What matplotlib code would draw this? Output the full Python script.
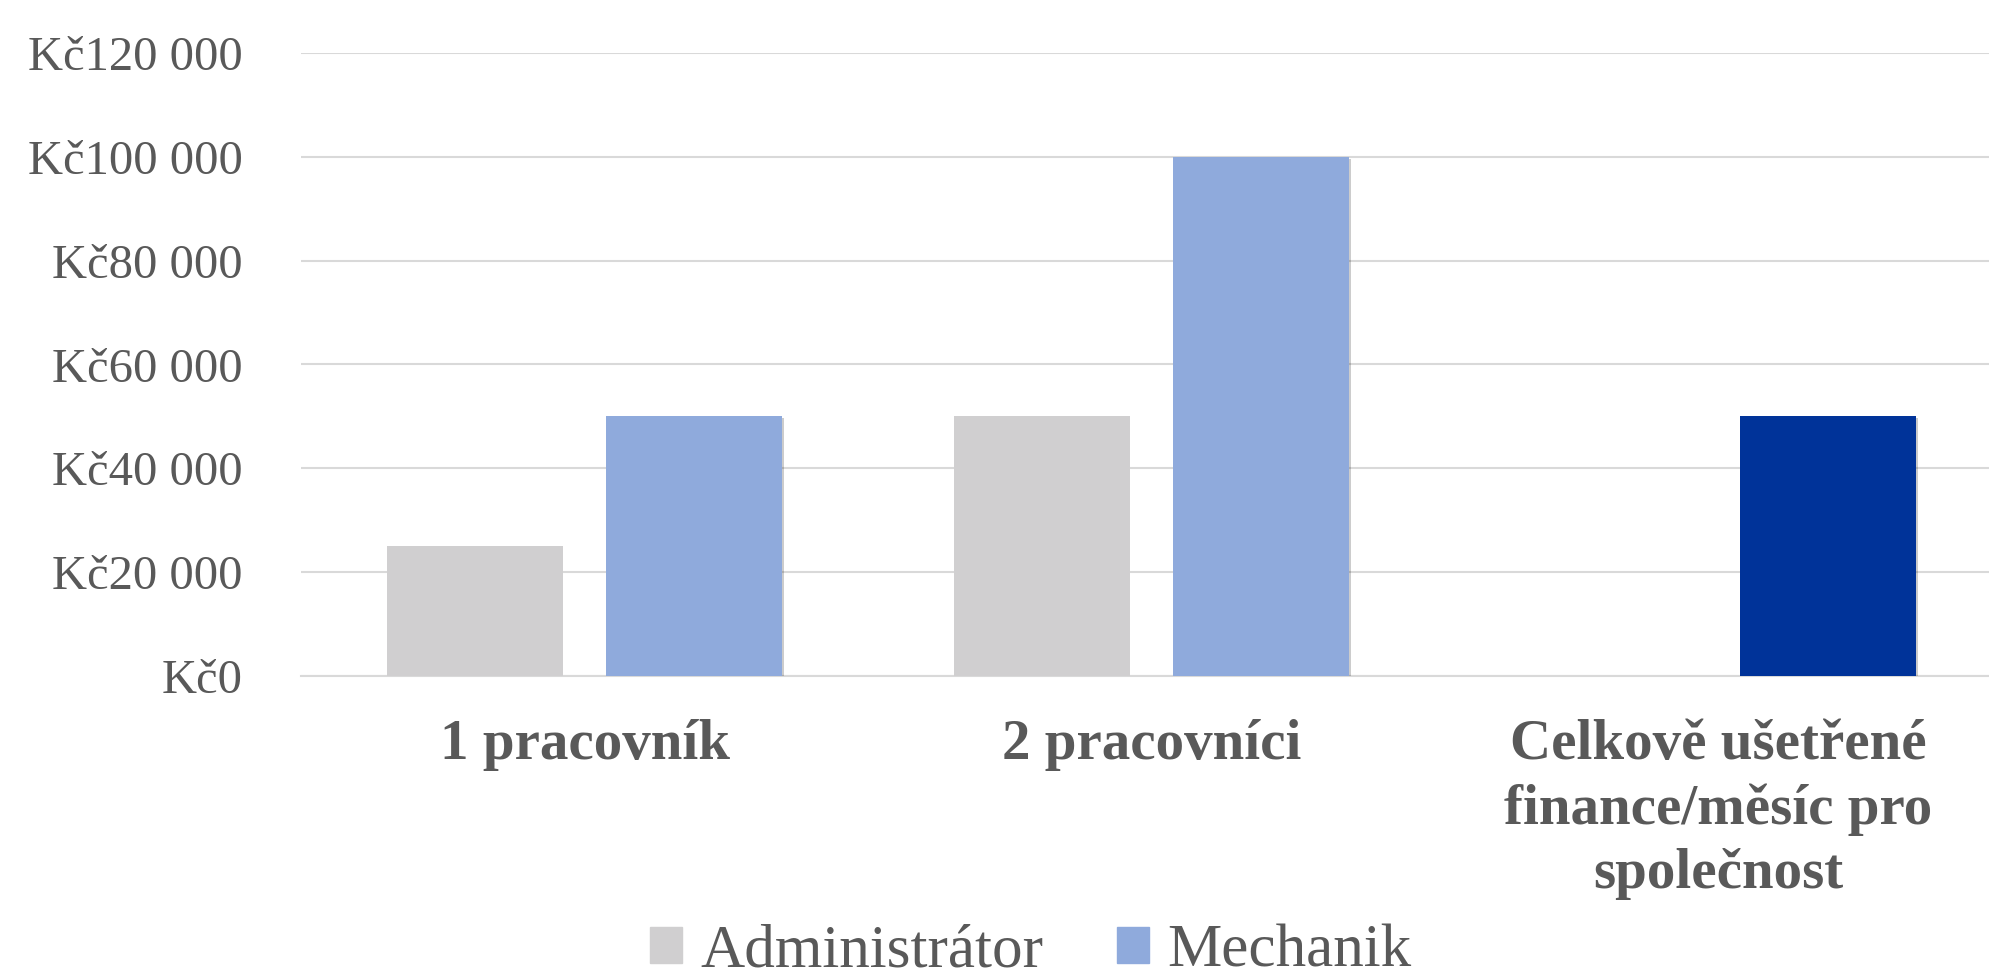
import matplotlib
matplotlib.use('Agg')
import matplotlib.pyplot as plt
import matplotlib.patheffects as pe
from matplotlib.patches import Patch
import numpy as np

# Data
categories = ['1 pracovník', '2 pracovníci', 'Celkově ušetřené\nfinance/měsíc pro\nspolečnost']
admin = [25000, 50000, 0]
mechanik = [50000, 100000, 50000]
yticks = [0, 20000, 40000, 60000, 80000, 100000, 120000]

c_admin = '#D0CFD0'
c_mech = '#8FAADC'
c_total = '#003399'
c_text = '#595959'

plt.rcParams['font.family'] = ['Liberation Serif', 'DejaVu Serif']

fig = plt.figure(figsize=(19.9, 9.8), dpi=100)
ax = fig.add_axes([301/1990, (980-676)/980, 1701/1990, (676-53)/980])

x = np.arange(len(categories))
w = 0.31
off = 0.193
shadow = [pe.SimplePatchShadow(offset=(1.5, -1.5), shadow_rgbFace='#000000', alpha=0.2), pe.Normal()]

ax.bar(x[:2] - off, admin[:2], w, color=c_admin, zorder=3)
mech_colors = [c_mech, c_mech, c_total]
bars = ax.bar(x + off, mechanik, w, color=mech_colors, zorder=3)
for b in bars:
    b.set_path_effects(shadow)

ax.set_xlim(-0.5, 2.5)
ax.set_ylim(0, 120000)
ax.set_yticks(yticks)
ax.set_yticklabels(['Kč' + f'{v:,}'.replace(',', ' ') for v in yticks])
ax.set_xticks(x)
ax.set_xticklabels(categories, fontweight='bold', linespacing=1.3)

ax.yaxis.grid(True, color='#D9D9D9', linewidth=1.5, zorder=0)
ax.set_axisbelow(True)
for s in ['top', 'right', 'left']:
    ax.spines[s].set_visible(False)
ax.spines['bottom'].set_color('#D9D9D9')
ax.spines['bottom'].set_linewidth(1.5)
ax.tick_params(axis='y', length=0, labelsize=35, labelcolor=c_text, pad=42)
ax.tick_params(axis='x', length=0, labelsize=41, labelcolor=c_text, pad=31)

handles = [Patch(color=c_admin, label='Administrátor'), Patch(color=c_mech, label='Mechanik')]
fig.legend(handles=handles, loc='center', bbox_to_anchor=(0.518, 1 - 952/980), ncol=2,
           frameon=False, fontsize=44, labelcolor=c_text, handlelength=0.52, handleheight=0.52,
           handletextpad=0.3, columnspacing=1.2, borderpad=0.05)

fig.savefig('out.png', dpi=100, facecolor='white')
